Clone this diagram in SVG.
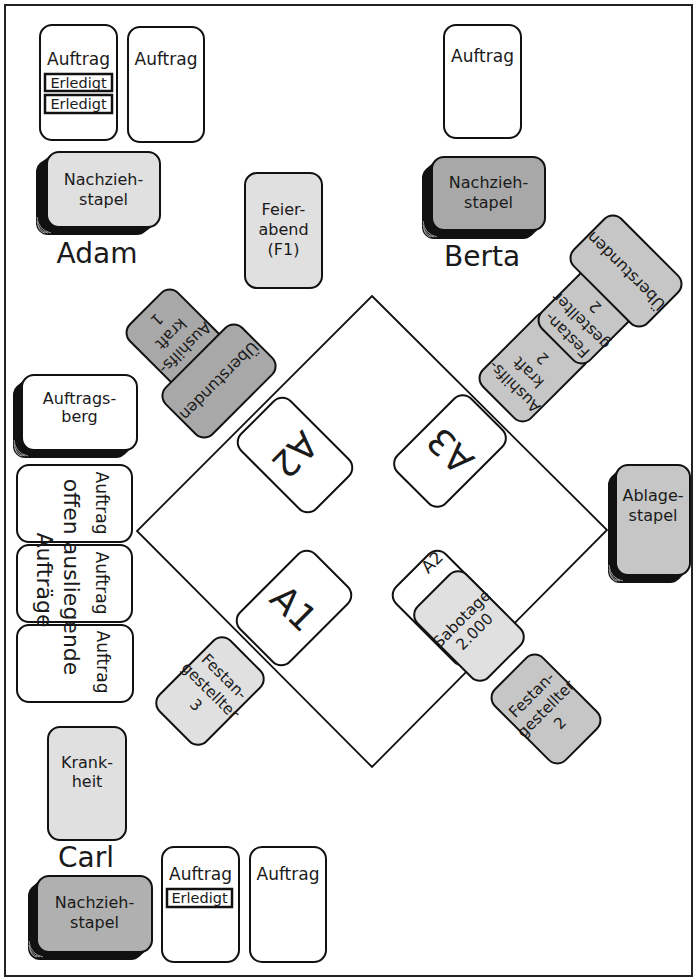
<svg xmlns="http://www.w3.org/2000/svg" width="696" height="980" viewBox="0 0 696 980">
<style>
text{font-family:"DejaVu Sans",sans-serif;fill:#1a1a1a;text-anchor:middle;font-size:16px}
.c{stroke:#111;stroke-width:2}
.w{fill:#fff}
.l{fill:#e0e0e0}
.m{fill:#c6c6c6}
.d{fill:#a8a8a8}
.sh{fill:#111}
.pg{fill:none;stroke:#bbb;stroke-width:0.8}
.er{fill:#fff;stroke:#111;stroke-width:2.5}
.au{font-size:17px}
.nm{font-size:28px}
.big{font-size:36px}
.erl{font-size:14.5px}
.ov{font-size:22px}
.sm{font-size:15.5px}
</style>
<rect x="0" y="0" width="696" height="980" fill="#fff"/>
<rect x="5" y="5" width="687" height="971" fill="none" stroke="#222" stroke-width="2"/>

<g id="board">
<polygon points="372,296 607,530 372,767 137,531" fill="none" stroke="#111" stroke-width="1.8"/>
</g>

<g id="connectors"></g>

<!-- Adam -->
<g id="adam-auftrag-1">
<rect x="40" y="25" width="77" height="115" rx="12" class="c w"/>
<text x="78.5" y="65" class="au">Auftrag</text>
<rect x="45" y="74" width="67" height="17" class="er"/>
<text x="78.5" y="87.5" class="erl">Erledigt</text>
<rect x="45" y="95" width="67" height="18" class="er"/>
<text x="78.5" y="109" class="erl">Erledigt</text>
</g>
<g id="adam-auftrag-2">
<rect x="128" y="27" width="76" height="115" rx="12" class="c w"/>
<text x="166" y="65" class="au">Auftrag</text>
</g>
<g id="adam-nachziehstapel">
<rect x="36" y="160" width="113" height="75" rx="12" class="sh"/>
<polygon points="50.5,155.5 39.5,163.5 145.5,231.5 156.5,223.5" class="sh"/>
<path d="M37,221 q1,10 11,12 M37,217 q1,13 14,16 M38,225 q1,7 7,8" class="pg"/>
<rect x="47" y="152" width="113" height="75" rx="12" class="c l"/>
<text x="103.5" y="185">Nachzieh-</text>
<text x="103.5" y="205">stapel</text>
</g>
<g id="adam-label"><text x="97" y="263" class="nm">Adam</text></g>

<g id="feierabend">
<rect x="245" y="173" width="77" height="115" rx="12" class="c l"/>
<text x="283.5" y="215">Feier-</text>
<text x="283.5" y="235">abend</text>
<text x="283.5" y="255">(F1)</text>
</g>

<!-- Berta -->
<g id="berta-auftrag">
<rect x="444" y="25" width="77" height="113" rx="12" class="c w"/>
<text x="482.5" y="62" class="au">Auftrag</text>
</g>
<g id="berta-nachziehstapel">
<rect x="422" y="166" width="113" height="73" rx="12" class="sh"/>
<polygon points="435.5,160.5 425.5,169.5 531.5,235.5 541.5,226.5" class="sh"/>
<path d="M423,225 q1,10 11,12 M423,221 q1,13 14,16 M424,229 q1,7 7,8" class="pg"/>
<rect x="432" y="157" width="113" height="73" rx="12" class="c d"/>
<text x="488.5" y="188">Nachzieh-</text>
<text x="488.5" y="208">stapel</text>
</g>
<g id="berta-label"><text x="482" y="266" class="nm">Berta</text></g>

<!-- Left column -->
<g id="auftragsberg">
<rect x="13" y="383" width="115" height="75" rx="12" class="sh"/>
<polygon points="25.5,378.5 16.5,386.5 124.5,454.5 133.5,446.5" class="sh"/>
<path d="M14,444 q1,10 11,12 M14,440 q1,13 14,16 M15,448 q1,7 7,8" class="pg"/>
<rect x="22" y="375" width="115" height="75" rx="12" class="c w"/>
<text x="79.5" y="404">Auftrags-</text>
<text x="79.5" y="422">berg</text>
</g>
<g id="offen-auftrag-1">
<rect x="17" y="465" width="115" height="77" rx="12" class="c w"/>
<text transform="translate(96,503) rotate(90)" class="au">Auftrag</text>
</g>
<g id="offen-auftrag-2">
<rect x="17" y="545" width="115" height="77" rx="12" class="c w"/>
<text transform="translate(96,583) rotate(90)" class="au">Auftrag</text>
</g>
<g id="offen-auftrag-3">
<rect x="17" y="625" width="116" height="77" rx="12" class="c w"/>
<text transform="translate(97,662) rotate(90)" class="au">Auftrag</text>
</g>
<g id="offen-label">
<text transform="translate(64,577) rotate(90)" class="ov">offen ausliegende</text>
<text transform="translate(37,580) rotate(90)" class="ov">Aufträge</text>
</g>

<!-- Carl -->
<g id="krankheit">
<rect x="48" y="727" width="78" height="113" rx="12" class="c l"/>
<text x="87" y="768">Krank-</text>
<text x="87" y="787">heit</text>
</g>
<g id="carl-label"><text x="86" y="867" class="nm">Carl</text></g>
<g id="carl-nachziehstapel">
<rect x="28" y="884" width="115" height="76" rx="12" class="sh"/>
<polygon points="40.5,879.5 31.5,887.5 139.5,956.5 148.5,948.5" class="sh"/>
<path d="M29,945 q1,10 11,12 M29,941 q1,13 14,16 M30,949 q1,7 7,8" class="pg"/>
<rect x="37" y="876" width="115" height="76" rx="12" class="c" fill="#b0b0b0"/>
<text x="94.5" y="908">Nachzieh-</text>
<text x="94.5" y="928">stapel</text>
</g>
<g id="carl-auftrag-1">
<rect x="162" y="847" width="77" height="115" rx="12" class="c w"/>
<text x="200.5" y="880" class="au">Auftrag</text>
<rect x="167" y="889" width="65" height="18" class="er"/>
<text x="199.5" y="903" class="erl">Erledigt</text>
</g>
<g id="carl-auftrag-2">
<rect x="250" y="847" width="76" height="115" rx="12" class="c w"/>
<text x="288" y="880" class="au">Auftrag</text>
</g>

<!-- Ablage -->
<g id="ablagestapel">
<rect x="608" y="473" width="74" height="110" rx="12" class="sh"/>
<polygon points="619.5,468.5 611.5,476.5 678.5,579.5 686.5,571.5" class="sh"/>
<path d="M609,569 q1,10 11,12 M609,565 q1,13 14,16 M610,573 q1,7 7,8" class="pg"/>
<rect x="616" y="465" width="74" height="110" rx="12" class="c m"/>
<text x="653" y="501">Ablage-</text>
<text x="653" y="521">stapel</text>
</g>

<!-- Tiles -->
<g id="tile-a2" transform="translate(295,455) rotate(45)">
<rect x="-53" y="-35" width="106" height="70" rx="12" class="c w"/>
<text transform="rotate(90)" y="13" class="big">A2</text>
</g>
<g id="tile-a3" transform="translate(450,451) rotate(-45)">
<rect x="-52" y="-34" width="104" height="68" rx="12" class="c w"/>
<text transform="rotate(-90)" y="13" class="big">A3</text>
</g>
<g id="tile-a1" transform="translate(294,608) rotate(-45)">
<rect x="-53" y="-35" width="106" height="70" rx="12" class="c w"/>
<text transform="rotate(90)" y="13" class="big">A1</text>
</g>
<g id="tile-a2-small">
<rect transform="translate(450,608) rotate(45)" x="-53" y="-35" width="106" height="70" rx="12" class="c w"/>
<text transform="translate(432,562) rotate(-45)" y="6" style="font-size:17px">A2</text>
</g>
<g id="sabotage" transform="translate(469,626) rotate(-45)">
<rect x="-34.5" y="-50" width="69" height="100" rx="12" class="c l"/>
<text y="-5" class="sm">Sabotage</text>
<text y="13" class="sm">2.000</text>
</g>

<!-- Adam's played cards -->
<g id="aushilfskraft-1" transform="translate(181,344) rotate(135)">
<rect x="-34" y="-50" width="68" height="100" rx="12" class="c d"/>
<text y="-0.5" class="sm">Aushilfs-</text>
<text y="19.5" class="sm">kraft</text>
<text y="39.5" class="sm">1</text>
</g>
<g id="ueberstunden-1" transform="translate(219,381) rotate(135)">
<rect x="-54" y="-33" width="108" height="66" rx="12" class="c d"/>
<text y="5.5">Überstunden</text>
</g>

<!-- Berta's played cards -->
<g id="aushilfskraft-2" transform="translate(534,367) rotate(-135)">
<rect x="-34" y="-50" width="68" height="100" rx="12" class="c m"/>
<text y="-22.5" class="sm">Aushilfs-</text>
<text y="-2.5" class="sm">kraft</text>
<text y="17.5" class="sm">2</text>
</g>
<g id="festangestellter-2a" transform="translate(593,309) rotate(-135)">
<rect x="-34" y="-50" width="68" height="100" rx="12" class="c m"/>
<text y="-31.5" class="sm">Festan-</text>
<text y="-11.5" class="sm">gestellter</text>
<text y="8.5" class="sm">2</text>
</g>
<g id="ueberstunden-2" transform="translate(626,271) rotate(-135)">
<rect x="-52" y="-33.5" width="104" height="67" rx="12" class="c m"/>
<text y="5.5">Überstunden</text>
</g>

<!-- Other played cards -->
<g id="festangestellter-3" transform="translate(210,691) rotate(45)">
<rect x="-33" y="-50" width="66" height="100" rx="12" class="c l"/>
<text y="-15" class="sm">Festan-</text>
<text y="5" class="sm">gestellter</text>
<text y="25" class="sm">3</text>
</g>
<g id="festangestellter-2b" transform="translate(546,709) rotate(-45)">
<rect x="-34" y="-50" width="68" height="100" rx="12" class="c m"/>
<text y="-15" class="sm">Festan-</text>
<text y="5" class="sm">gestellter</text>
<text y="25" class="sm">2</text>
</g>
</svg>
